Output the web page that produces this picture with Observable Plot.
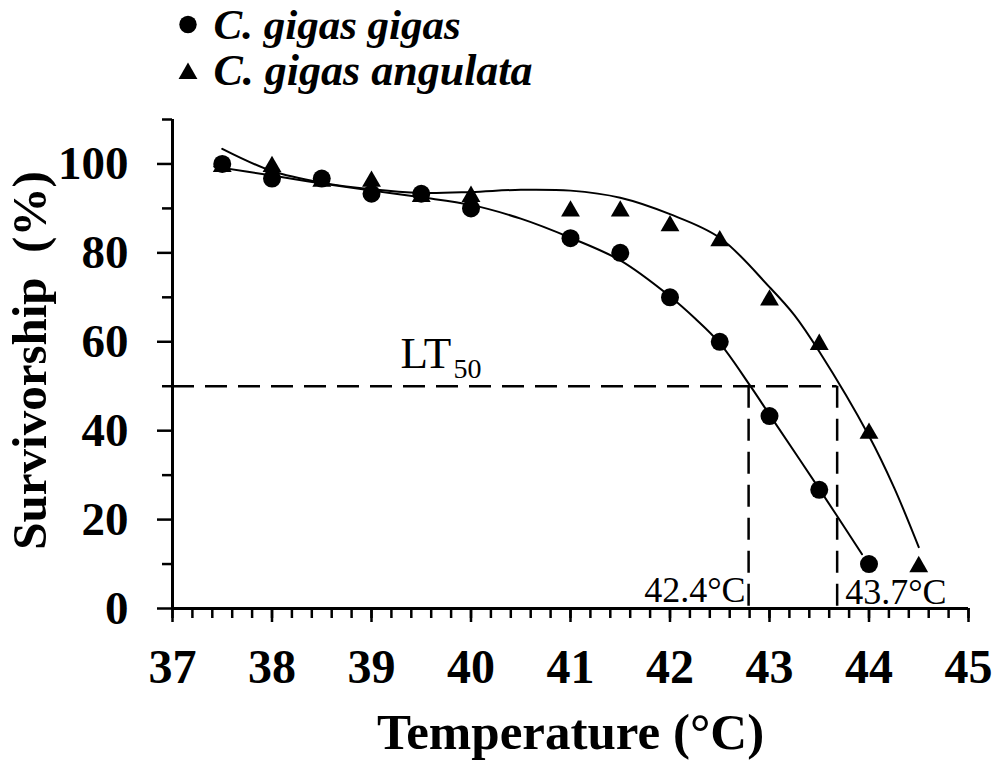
<!DOCTYPE html>
<html>
<head>
<meta charset="utf-8">
<script src="https://cdn.jsdelivr.net/npm/d3@7"></script>
<script src="https://cdn.jsdelivr.net/npm/@observablehq/plot@0.6"></script>
<style>
  html, body { margin: 0; padding: 0; background: #fff; }
  svg { display: block; }
</style>
</head>
<body>
<div id="chart"></div>
<script>
// ---- data ----
const species = ["C. gigas gigas", "C. gigas angulata"];

// observed survivorship (%)
const gigasTemp = [37.5, 38, 38.5, 39, 39.5, 40, 41, 41.5, 42, 42.5, 43, 43.5, 44];
const gigasSurv = [100, 96.7, 96.7, 93.3, 93.3, 90, 83.3, 80, 70, 60, 43.3, 26.7, 10];
const angulataTemp = [37.5, 38, 38.5, 39, 39.5, 40, 41, 41.5, 42, 42.5, 43, 43.5, 44, 44.5];
const angulataSurv = [100, 100, 96.7, 96.7, 93.3, 93.3, 90, 90, 86.7, 83.3, 70, 60, 40, 10];

// fitted curves
const gigasFitTemp = [37.42, 38, 38.5, 39, 39.5, 40, 40.5, 41, 41.5, 42, 42.25, 42.5, 42.8, 43, 43.5, 43.93];
const gigasFitSurv = [99.4, 97.4, 95.6, 94.0, 92.5, 90.8, 87.7, 83.4, 78.3, 70.2, 65.3, 59.7, 50.3, 43.6, 26.9, 12.2];
const angulataFitTemp = [37.5, 38, 38.5, 39, 39.5, 40, 40.5, 41, 41.5, 42, 42.5, 43, 43.25, 43.5, 44, 44.25, 44.5];
const angulataFitSurv = [103.4, 98.4, 95.8, 94.3, 93.5, 93.7, 94.2, 94.0, 92.4, 88.7, 83.4, 72.3, 66.0, 57.8, 38.8, 27.3, 13.8];

// LT50 annotation
const lt50Level = 50;
const lt50Temp = [42.79, 43.68];
const lt50Labels = ["42.4°C", "43.7°C"];

// axes
const xDomain = [37, 45];
const yDomain = [0, 110];
const xTicksMajor = [37, 38, 39, 40, 41, 42, 43, 44, 45];
const yTicksMajor = [0, 20, 40, 60, 80, 100];
const yTicksMinor = [10, 30, 50, 70, 90, 110];

// ---- tables ----
const gigasPts = gigasTemp.map((t, i) => ({t, s: gigasSurv[i]}));
const angulataPts = angulataTemp.map((t, i) => ({t, s: angulataSurv[i]}));
const gigasFit = gigasFitTemp.map((t, i) => ({t, s: gigasFitSurv[i]}));
const angulataFit = angulataFitTemp.map((t, i) => ({t, s: angulataFitSurv[i]}));
const lt50 = lt50Temp.map((t, i) => ({t, label: lt50Labels[i]}));

const serif = "'Liberation Serif', 'Times New Roman', Times, serif";
const dash = "22,11";

const chart = Plot.plot({
  width: 996,
  height: 761,
  marginLeft: 172,
  marginRight: 28,
  marginTop: 119,
  marginBottom: 153,
  x: {domain: xDomain},
  y: {domain: yDomain},
  style: {fontFamily: serif, background: "white", color: "black", overflow: "visible"},
  marks: [
    // ticks
    Plot.axisX({ticks: d3.ticks(xDomain[0], xDomain[1], 40), tickSize: 10, tickFormat: () => "", strokeWidth: 2.5, label: null}),
    Plot.axisX({ticks: xTicksMajor, tickSize: 14, tickFormat: () => "", strokeWidth: 2.5, label: null}),
    Plot.axisY({ticks: yTicksMinor, tickSize: 10, tickFormat: () => "", strokeWidth: 2.5, label: null}),
    Plot.axisY({ticks: yTicksMajor, tickSize: 15, tickFormat: () => "", strokeWidth: 2.5, label: null}),
    // axis lines
    Plot.ruleY([yDomain[0]], {strokeWidth: 3}),
    Plot.ruleX([xDomain[0]], {strokeWidth: 3}),
    // tick labels
    Plot.text(xTicksMajor, {x: d => d, text: d => String(d), frameAnchor: "bottom", lineAnchor: "bottom", dy: 74, fontSize: 48, fontWeight: "bold"}),
    Plot.text(yTicksMajor, {y: d => d, text: d => String(d), frameAnchor: "left", textAnchor: "end", lineAnchor: "middle", dx: -44, fontSize: 47, fontWeight: "bold"}),
    // axis titles
    Plot.text(["Temperature (°C)"], {frameAnchor: "bottom", textAnchor: "middle", lineAnchor: "bottom", dy: 140, fontSize: 51, fontWeight: "bold"}),
    Plot.text(["Survivorship\u00a0\u00a0(%)"], {frameAnchor: "left", textAnchor: "middle", rotate: -90, lineAnchor: "bottom", dx: -127, dy: -3.5, fontSize: 49, fontWeight: "bold"}),
    // LT50 dashed guides
    Plot.ruleY([lt50Level], {x1: xDomain[0], x2: d3.max(lt50Temp), strokeDasharray: dash, strokeWidth: 2.5}),
    Plot.ruleX(lt50, {x: "t", y1: lt50Level, y2: yDomain[0], strokeDasharray: dash, strokeWidth: 2.5}),
    Plot.text([lt50Level], {y: d => d, text: () => "LT", frameAnchor: "left", textAnchor: "start", lineAnchor: "bottom", dx: 228, dy: -18, fontSize: 45}),
    Plot.text([lt50Level], {y: d => d, text: () => "50", frameAnchor: "left", textAnchor: "start", lineAnchor: "bottom", dx: 281, dy: -8, fontSize: 28}),
    Plot.text([lt50[0]], {x: "t", y: () => yDomain[0], text: "label", textAnchor: "end", lineAnchor: "bottom", dx: -3, dy: -7, fontSize: 36}),
    Plot.text([lt50[1]], {x: "t", y: () => yDomain[0], text: "label", textAnchor: "start", lineAnchor: "bottom", dx: 8, dy: -5, fontSize: 36}),
    // fitted curves
    Plot.line(gigasFit, {x: "t", y: "s", curve: "catmull-rom", stroke: "black", strokeWidth: 2}),
    Plot.line(angulataFit, {x: "t", y: "s", curve: "catmull-rom", stroke: "black", strokeWidth: 2}),
    // observed points
    Plot.dot(gigasPts, {x: "t", y: "s", r: 9, symbol: "circle", fill: "black", stroke: "none"}),
    Plot.dot(angulataPts, {x: "t", y: "s", r: 7, symbol: "triangle", fill: "black", stroke: "none", dy: 2.7}),
    // legend
    Plot.dot([species[0]], {frameAnchor: "top-left", dx: 15.5, dy: -95, r: 8.7, symbol: "circle", fill: "black", stroke: "none"}),
    Plot.dot([species[1]], {frameAnchor: "top-left", dx: 15.5, dy: -46, r: 7, symbol: "triangle", fill: "black", stroke: "none"}),
    Plot.text([species[0]], {frameAnchor: "top-left", textAnchor: "start", lineAnchor: "bottom", dx: 41, dy: -80.5, fontSize: 43, fontWeight: "bold", fontStyle: "italic"}),
    Plot.text([species[1]], {frameAnchor: "top-left", textAnchor: "start", lineAnchor: "bottom", dx: 41, dy: -35, fontSize: 44, fontWeight: "bold", fontStyle: "italic"})
  ]
});

document.getElementById("chart").appendChild(chart);
</script>
</body>
</html>
